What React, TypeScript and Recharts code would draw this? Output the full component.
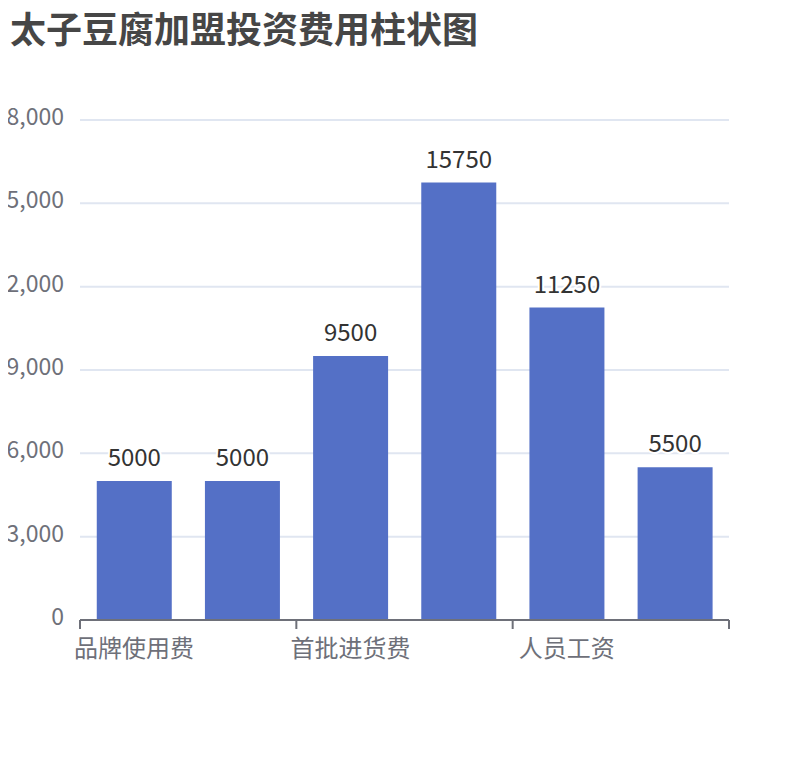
import { BarChart, Bar, XAxis, YAxis, CartesianGrid, LabelList } from "recharts";

const categories = ["品牌使用费", "加盟保证金", "首批进货费", "店面装修费", "人员工资", "其他费用"];
const costs = [5000, 5000, 9500, 15750, 11250, 5500];
const yTicks = [0, 3000, 6000, 9000, 12000, 15000, 18000];

const rows = categories.map((name, i) => ({ name, cost: costs[i] }));

const FONT = '"Noto Sans CJK SC", "Noto Sans", sans-serif';
const AXIS = "#6E7079";
const PLOT_LEFT = 80;
const PLOT_RIGHT = 729;
const band = (PLOT_RIGHT - PLOT_LEFT) / categories.length;

function CategoryTick(props: any) {
  const { x, y, payload, index } = props;
  const last = index === categories.length - 1;
  return (
    <g>
      {index % 2 === 0 && (
        <line x1={x - band / 2} x2={x - band / 2} y1={y} y2={y + 9} stroke={AXIS} strokeWidth={2} />
      )}
      {last && <line x1={x + band / 2} x2={x + band / 2} y1={y} y2={y + 9} stroke={AXIS} strokeWidth={2} />}
      {index % 2 === 0 && (
        <text x={x} y={y + 26} textAnchor="middle" dominantBaseline="central" fontSize={24} fill={AXIS} fontFamily={FONT}>
          {payload.value}
        </text>
      )}
    </g>
  );
}

function ValueLabel(props: any) {
  const { x, y, width, value } = props;
  return (
    <text
      x={x + width / 2}
      y={y - 15}
      textAnchor="middle"
      fontSize={24}
      fill="#333"
      stroke="#fff"
      strokeWidth={4}
      paintOrder="stroke"
      fontFamily={FONT}
    >
      {value}
    </text>
  );
}

export default function App() {
  return (
    <div style={{ position: "relative", width: 810, height: 760, margin: -8, fontFamily: FONT, background: "#fff" }}>
      <div
        style={{
          position: "absolute",
          left: 10,
          top: 9,
          fontSize: 36,
          lineHeight: "36px",
          fontWeight: 700,
          color: "#464646",
          whiteSpace: "nowrap",
        }}
      >
        太子豆腐加盟投资费用柱状图
      </div>
      <BarChart
        width={810}
        height={700}
        data={rows}
        margin={{ top: 120, right: 810 - PLOT_RIGHT, bottom: 30, left: 0 }}
        barCategoryGap="15.5%"
      >
        <CartesianGrid horizontal vertical={false} stroke="#E0E6F1" strokeWidth={2} />
        <XAxis
          dataKey="name"
          height={50}
          interval={0}
          tickLine={false}
          tickSize={0}
          tickMargin={0}
          axisLine={{ stroke: AXIS, strokeWidth: 2 }}
          tick={<CategoryTick />}
        />
        <YAxis
          width={PLOT_LEFT}
          domain={[0, 18000]}
          ticks={yTicks}
          axisLine={false}
          tickLine={false}
          tickSize={0}
          tickMargin={16}
          tickFormatter={(v: number) => v.toLocaleString("en-US")}
          tick={{ fontSize: 23, fill: AXIS, fontFamily: FONT, dy: -3 }}
        />
        <Bar dataKey="cost" fill="#5470C6" isAnimationActive={false}>
          <LabelList dataKey="cost" content={<ValueLabel />} />
        </Bar>
      </BarChart>
    </div>
  );
}
